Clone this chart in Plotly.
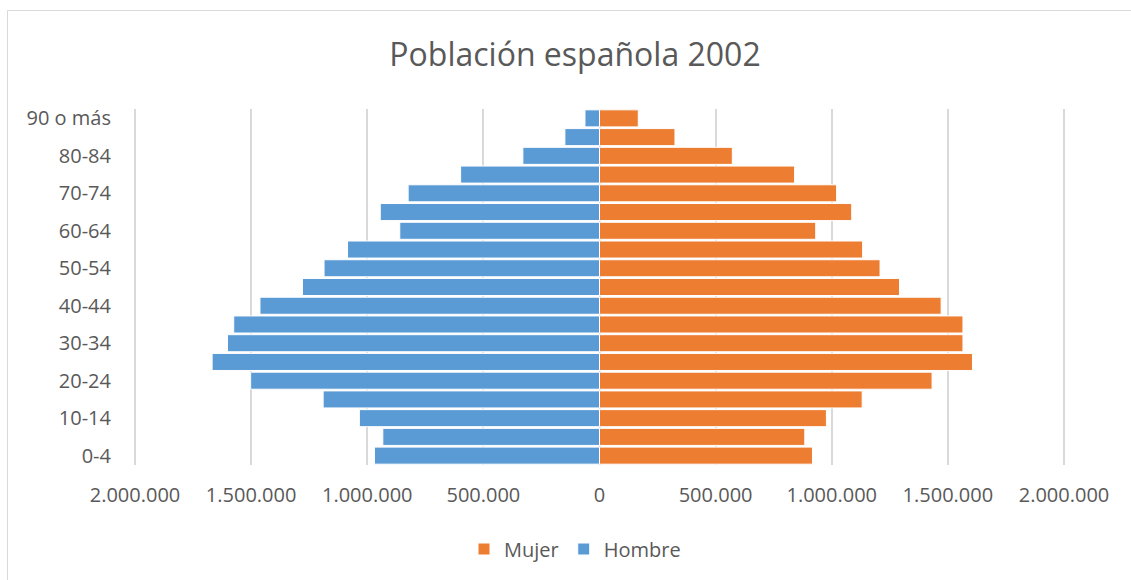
import plotly.graph_objects as go

edades = ["0-4", "5-9", "10-14", "15-19", "20-24", "25-29", "30-34", "35-39",
          "40-44", "45-49", "50-54", "55-59", "60-64", "65-69", "70-74",
          "75-79", "80-84", "85-89", "90 o más"]
hombres = [969000, 933000, 1034000, 1190000, 1502000, 1668000, 1602000, 1575000,
           1462000, 1279000, 1186000, 1085000, 860000, 944000, 824000,
           598000, 330000, 149000, 62500]
mujeres = [917000, 884000, 977000, 1131000, 1432000, 1606000, 1565000, 1565000,
           1471000, 1292000, 1208000, 1133000, 931000, 1086000, 1021000,
           840000, 572000, 325000, 167000]

x_ticks = [-2000000, -1500000, -1000000, -500000, 0, 500000, 1000000, 1500000, 2000000]
x_ticktext = ["2.000.000", "1.500.000", "1.000.000", "500.000", "0",
              "500.000", "1.000.000", "1.500.000", "2.000.000"]
y_ticks = edades[::2]

FONT = "Open Sans"
TXT = "#595959"

fig = go.Figure()
fig.add_trace(go.Bar(
    y=edades, x=mujeres, orientation="h", name="Mujer",
    marker=dict(color="#ED7D31", line=dict(color="white", width=1)),
))
fig.add_trace(go.Bar(
    y=edades, x=[-v for v in hombres], orientation="h", name="Hombre",
    marker=dict(color="#5B9BD5", line=dict(color="white", width=1)),
))

W, H = 1131, 580
L, R, T, B = 132, 64, 109, 115
pw, ph = W - L - R, H - T - B

def px_x(p):
    return (p - L) / pw

def px_y(p):
    return (H - B - p) / ph

fig.update_layout(
    width=W, height=H,
    margin=dict(l=L, r=R, t=T, b=B, pad=0),
    paper_bgcolor="white", plot_bgcolor="white",
    barmode="overlay", bargap=0.09,
    font=dict(family=FONT, color=TXT, size=20),
    title=dict(text="Población española 2002", x=575 / W, xanchor="center",
               y=1 - 55 / H, yanchor="middle", yref="container",
               font=dict(family=FONT, size=32, color=TXT)),
    showlegend=True,
    legend=dict(orientation="h", x=px_x(575), xanchor="center",
                y=1 - 549 / H, yanchor="middle", yref="container",
                font=dict(family=FONT, size=20, color=TXT),
                itemwidth=30, bgcolor="rgba(0,0,0,0)"),
    xaxis=dict(range=[-2013000, 2013000], tickvals=x_ticks, ticktext=x_ticktext,
               showgrid=True, gridcolor="#d9d9d9", gridwidth=1.5,
               zeroline=True, zerolinecolor="#d9d9d9", zerolinewidth=1.5,
               showline=False, ticks="", ticklabelstandoff=16,
               tickfont=dict(family=FONT, size=20, color=TXT), fixedrange=True),
    yaxis=dict(type="category", categoryorder="array", categoryarray=edades,
               tickvals=y_ticks, ticktext=y_ticks,
               showgrid=False, zeroline=False, showline=False, ticks="",
               ticklabelstandoff=20,
               tickfont=dict(family=FONT, size=20, color=TXT), fixedrange=True),
    shapes=[dict(type="rect", xref="paper", yref="paper",
                 x0=px_x(7.5), x1=px_x(W + 10), y0=px_y(H + 10), y1=px_y(10.5),
                 line=dict(color="#d9d9d9", width=1), fillcolor="rgba(0,0,0,0)",
                 layer="below")],
)

fig.write_html("out.html")
